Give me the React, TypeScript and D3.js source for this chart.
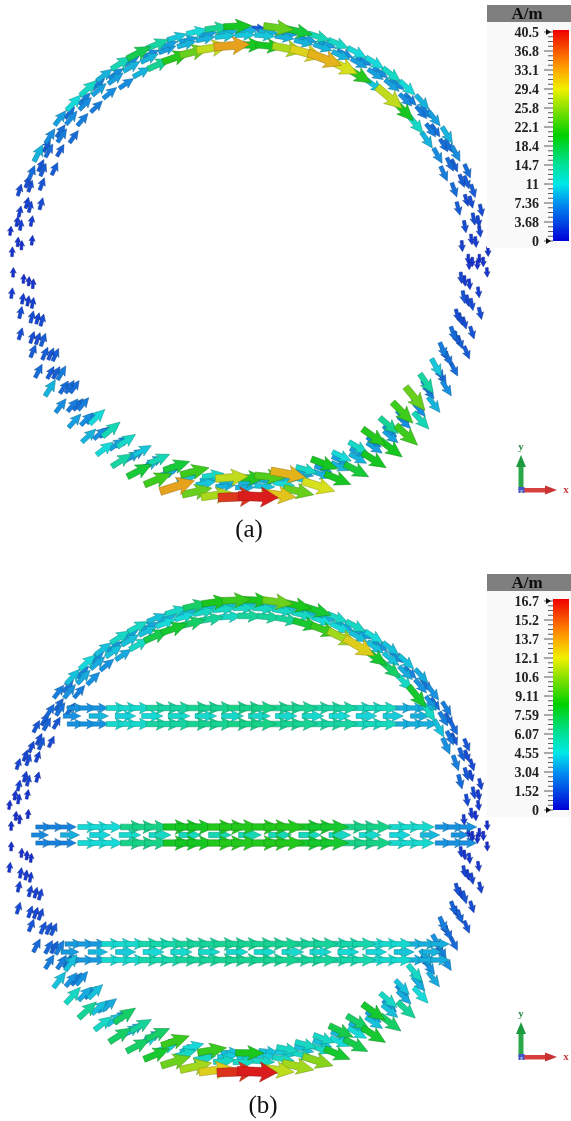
import React from "react";
import * as d3 from "d3";

// ---------- values (A/m), index runs left node -> right node ----------
const ticksA = ["40.5", "36.8", "33.1", "29.4", "25.8", "22.1", "18.4", "14.7", "11", "7.36", "3.68", "0"];
const ticksB = ["16.7", "15.2", "13.7", "12.1", "10.6", "9.11", "7.59", "6.07", "4.55", "3.04", "1.52", "0"];

const aTopOuter = [1.5, 1.2, 2.2, 3, 5, 9, 7, 8, 11, 12, 9, 13, 18, 14, 10, 11, 15, 20, 4, 24, 19, 13, 12, 11, 11, 12, 11, 9, 8, 9, 7, 5, 4, 3, 2.5, 1.5];
const aTopMid = [1.2, 2, 2.5, 3, 4, 5, 6, 7, 7, 8, 8, 9, 9, 8, 9, 9, 10, 10, 10, 9, 9, 9, 9, 8, 8, 8, 7, 6, 6, 5, 5, 4, 3, 3, 2, 1.2];
const aTopInner = [1.5, 2, 3, 3.5, 4, 4, 5, 6, 6, 7, 7, 9, 15, 21, 24, 28, 33, 20, 20, 27, 30, 32, 29, 21, 10, 28, 20, 12, 9, 7, 6, 5, 4, 3, 2.2, 1.5];
const aTopFill = [1.4, 1.8, 2.4, 3, 3.5, 4, 5, 5, 6, 6, 7, 7, 7, 8, 8, 8, 9, 9, 9, 8, 8, 8, 7, 7, 7, 7, 6, 6, 5, 5, 4, 4, 3, 2.5, 2, 1.4];

const aBotOuter = [1.4, 2, 3, 3, 4, 5, 9, 7, 8, 9, 11, 14, 19, 22, 33, 24, 27, 39, 40.5, 31, 24, 29, 20, 19, 20, 20, 22, 13, 9, 7, 5, 4, 3.5, 3, 2, 1.4];
const aBotMid = [1.2, 2, 3, 3, 4, 4, 5, 6, 7, 7, 8, 8, 9, 9, 10, 10, 9, 9, 10, 11, 10, 9, 9, 9, 8, 8, 7, 7, 6, 5, 5, 4, 3, 3, 2, 1.2];
const aBotInner = [1.5, 2.2, 3, 4, 4, 6, 5, 6, 11, 13, 12, 10, 13, 19, 22, 12, 28, 21, 23, 32, 12, 20, 11, 12, 21, 15, 22, 24, 14, 10, 6, 5, 3, 3.5, 2.5, 1.5];
const aBotFill = [1.3, 1.8, 2.5, 3, 3.5, 4, 5, 5, 6, 6, 7, 7, 8, 8, 8, 9, 9, 9, 9, 9, 8, 8, 8, 8, 7, 7, 7, 6, 6, 5, 4, 4, 3, 2.5, 2, 1.3];

const bTopOuter = [0.5, 0.5, 0.9, 1, 1.2, 1.5, 2, 2.5, 4, 4.5, 4, 5, 5, 4, 5, 7, 8.5, 9, 8.5, 10, 8.5, 8, 5, 5, 4.5, 4, 4, 3.5, 3, 2.5, 2, 1.5, 1.2, 1, 0.7, 0.5];
const bTopMid = [0.5, 0.7, 1, 1.2, 1.5, 1.8, 2.2, 3, 3.5, 3.5, 4, 4, 4, 4.5, 4.5, 5, 5, 5, 5, 5, 5, 4.5, 4.5, 4, 4, 4, 3.5, 3, 3, 2.5, 2.2, 1.8, 1.5, 1.2, 0.8, 0.5];
const bTopInner = [0.5, 0.6, 0.8, 1, 1.2, 1.5, 2, 2.5, 3, 3, 3.5, 5, 7.5, 8, 7, 6, 5, 6, 6, 6, 8, 9, 11, 12.5, 8, 7, 5, 8, 5, 4, 3, 2.5, 2, 1.2, 0.8, 0.6];
const bTopFill = [0.5, 0.6, 0.9, 1.1, 1.3, 1.6, 1.9, 2.3, 2.6, 2.9, 3.1, 3.3, 3.4, 3.6, 3.8, 4, 4, 4, 4, 4, 3.8, 3.6, 3.4, 3.2, 3, 2.8, 2.6, 2.3, 2, 1.8, 1.5, 1.2, 1, 0.8, 0.6, 0.5];

const bBotOuter = [0.5, 0.7, 0.9, 1.2, 1.5, 2, 2.5, 4, 5, 6, 5, 7, 7, 8, 10, 11, 12.5, 16.2, 16.7, 11.5, 11, 10.5, 8, 7.5, 8, 7, 6, 4.5, 3.5, 3, 2, 1.5, 1.2, 1, 0.7, 0.5];
const bBotMid = [0.5, 0.8, 1, 1.2, 1.5, 2, 2.5, 3, 3.5, 4, 4, 4, 4.5, 4.5, 5, 5, 5, 5, 5, 5, 5, 5, 4.5, 4.5, 4, 4, 3.5, 3.5, 3, 2.5, 2, 1.8, 1.5, 1, 0.8, 0.5];
const bBotInner = [0.5, 0.7, 1, 1.2, 1.5, 2.5, 4, 3, 4, 3.5, 7, 6, 7, 9, 4.5, 9, 4, 8.5, 4, 5, 5, 5, 7.5, 7, 8, 5, 4, 5, 3.5, 3, 2.5, 1.8, 1.3, 1, 0.8, 0.5];
const bBotFill = [0.5, 0.7, 0.9, 1.1, 1.4, 1.7, 2.1, 2.4, 2.7, 3, 3.2, 3.4, 3.6, 3.8, 4, 4, 4.2, 4.2, 4.2, 4.2, 4, 4, 3.8, 3.6, 3.3, 3, 2.8, 2.5, 2.2, 1.9, 1.5, 1.2, 1, 0.8, 0.6, 0.5];

const stripTopEdge = [3, 4.8, 5.8, 6.2, 6.4, 6.2, 5.8, 5.2, 3.6];
const stripTopCore = [3, 3.8, 4.3, 4.6, 4.8, 4.8, 4.9, 4.9, 4.8, 4.8, 4.6, 4.4, 4.2, 3.6];
const stripMidEdge = [2.6, 4.6, 6.4, 8.2, 8.6, 8.6, 8, 6.4, 4.8, 3];
const stripMidCore = [2.8, 3.6, 4.4, 4.8, 5, 5.2, 5.4, 5.4, 5.4, 5.2, 5, 4.8, 4.4, 3.8, 3];
const stripLowEdge = [3.2, 4.8, 5.6, 6, 6.2, 6.2, 6, 5.6, 4.8, 3.6];
const stripLowCore = [3.2, 3.8, 4.2, 4.5, 4.7, 4.8, 4.8, 4.8, 4.8, 4.7, 4.6, 4.4, 4.1, 3.7];

const wobble = [0, 4, -3, 5, -4, 2, -5, 3];
const colorStops = [0, 0.18, 0.27, 0.37, 0.5, 0.62, 0.72, 0.82, 1];
const colorValues = ["#0000d8", "#0090f0", "#00e8e8", "#00e090", "#00d000", "#80e000", "#f0f000", "#ffa000", "#f00000"];

// ---------- scales ----------
const colorScale = d3.scaleLinear<string>().domain(colorStops).range(colorValues).clamp(true);
const lenScale = d3.scalePow().exponent(0.6).domain([0, 1]).range([5, 40]);
const widthScale = d3.scalePow().exponent(0.6).domain([0, 1]).range([4, 20]);
const angleTop = d3.scaleLinear().domain([-0.5, 35.5]).range([180, 0]);
const angleBottom = d3.scaleLinear().domain([-0.5, 35.5]).range([180, 360]);

type Arrow = { x: number; y: number; rot: number; f: number };

function arrowPath(f: number) {
  const L = lenScale(f);
  const W = widthScale(f);
  const hl = Math.min(15, Math.max(4, L * 0.5));
  const sw = Math.max(1.6, W * 0.44);
  const p = d3.path();
  p.moveTo(-L / 2, -sw / 2);
  p.lineTo(L / 2 - hl, -sw / 2);
  p.lineTo(L / 2 - hl - hl * 0.15, -W / 2);
  p.lineTo(L / 2, 0);
  p.lineTo(L / 2 - hl - hl * 0.15, W / 2);
  p.lineTo(L / 2 - hl, sw / 2);
  p.lineTo(-L / 2, sw / 2);
  p.closePath();
  return p.toString();
}

function ringArrows(vals: number[], max: number, cx: number, cy: number, r: number, top: boolean, shift: number): Arrow[] {
  const sc = top ? angleTop : angleBottom;
  return vals.map((v, i) => {
    const deg = sc(i + shift);
    const a = (deg * Math.PI) / 180;
    const f = v / max;
    const rr = r + wobble[i % wobble.length] * Math.max(0, 1 - f * 4);
    const x = cx + rr * Math.cos(a);
    const y = cy - rr * Math.sin(a);
    return { x, y, rot: top ? -(deg - 90) : deg - 270, f };
  });
}

function stripArrows(edge: number[], core: number[], max: number, x0: number, x1: number, cy: number, dy: number): Arrow[] {
  const out: Arrow[] = [];
  const gx = d3.scaleLinear().domain([0, edge.length - 1]).range([x0 + 14, x1 - 26]);
  edge.forEach((v, i) => {
    [0, 12, 24].forEach((o) => {
      [-dy, dy].forEach((d) => out.push({ x: gx(i) + o, y: cy + d, rot: 0, f: v / max }));
    });
  });
  const mx = d3.scaleLinear().domain([0, core.length - 1]).range([x0 + 10, x1 - 10]);
  core.forEach((v, i) => out.push({ x: mx(i), y: cy, rot: 0, f: v / max }));
  return out;
}

const Arrows = ({ items }: { items: Arrow[] }) => (
  <g>
    {[...items]
      .sort((a, b) => a.f - b.f)
      .map((d, i) => {
        const c = d3.color(colorScale(d.f))!;
        const fill = d3.interpolateRgb(c.formatHex(), "#7a9a9a")(0.18);
        return (
          <path
            key={i}
            d={arrowPath(d.f)}
            transform={`translate(${d.x},${d.y}) rotate(${d.rot})`}
            fill={fill}
            stroke={d3.color(fill)!.darker(1).formatHex()}
            strokeWidth={0.5}
          />
        );
      })}
  </g>
);

const Legend = ({ top, labels }: { top: number; labels: string[] }) => {
  const y = d3.scaleLinear().domain([0, labels.length - 1]).range([top + 27, top + 236]);
  const minor = d3.range(0, (labels.length - 1) * 4 + 1);
  const id = `cb${top}`;
  return (
    <g>
      <rect x={487} y={top + 17} width={84} height={226} fill="#f9f9f9" />
      <rect x={487} y={top} width={84} height={17} fill="#7f7f7f" />
      <text x={527} y={top + 14} textAnchor="middle" fontFamily="Liberation Serif" fontWeight="bold" fontSize={17} fill="#111">
        A/m
      </text>
      <defs>
        <linearGradient id={id} x1="0" y1="1" x2="0" y2="0">
          {colorStops.map((s, i) => (
            <stop key={i} offset={s} stopColor={colorValues[i]} />
          ))}
        </linearGradient>
      </defs>
      <rect x={553} y={top + 25} width={16} height={211} fill={`url(#${id})`} />
      {minor.map((m) => {
        const yy = y(m / 4);
        return <line key={m} x1={m % 4 === 0 ? 544 : 548} x2={553} y1={yy} y2={yy} stroke="#333" strokeWidth={0.8} />;
      })}
      {labels.map((l, i) => (
        <text key={l} x={539} y={y(i) + 5} textAnchor="end" fontFamily="Liberation Serif" fontWeight="bold" fontSize={14} fill="#222">
          {l}
        </text>
      ))}
      {[0, labels.length - 1].map((i) => (
        <path key={i} d={`M551,${y(i)} l-5,-3 v6 z`} fill="#111" />
      ))}
    </g>
  );
};

const Triad = ({ ox, oy }: { ox: number; oy: number }) => (
  <g>
    <rect x={ox - 2.5} y={oy - 26} width={5} height={26} fill="#2aa84a" />
    <path d={`M${ox - 5},${oy - 23} L${ox},${oy - 35} L${ox + 5},${oy - 23} Z`} fill="#1f9a3f" />
    <rect x={ox} y={oy - 2} width={26} height={4.5} fill="#d84040" />
    <path d={`M${ox + 24},${oy - 4.5} L${ox + 36},${oy} L${ox + 24},${oy + 4.5} Z`} fill="#c83030" />
    <rect x={ox - 2.5} y={oy - 3} width={6} height={6} fill="#4a52c8" />
    <text x={ox - 1} y={oy + 2.5} fontSize={7} fontFamily="Liberation Serif" fontWeight="bold" fill="#bcd">z</text>
    <text x={ox} y={oy - 40} textAnchor="middle" fontSize={11} fontFamily="Liberation Serif" fontWeight="bold" fill="#2e8b4a">y</text>
    <text x={ox + 45} y={oy + 3} textAnchor="middle" fontSize={11} fontFamily="Liberation Serif" fontWeight="bold" fill="#c84040">x</text>
  </g>
);

function ringSet(tracks: [number[], number, boolean, number][], max: number, cx: number, cy: number) {
  return tracks.flatMap(([v, r, t, s]) => ringArrows(v, max, cx, cy, r, t, s));
}

export default function App() {
  const A = ringSet(
    [
      [aTopOuter, 236, true, 0],
      [aTopMid, 227, true, 0.35],
      [aTopFill, 231, true, 0.5],
      [aTopInner, 217, true, 0.65],
      [aBotOuter, 235, false, 0],
      [aBotMid, 225, false, 0.35],
      [aBotFill, 220, false, 0.5],
      [aBotInner, 216, false, 0.65],
    ],
    40.5,
    248,
    262
  );
  const B = [
    ...ringSet(
      [
        [bTopOuter, 236, true, 0],
        [bTopMid, 228, true, 0.35],
        [bTopFill, 232, true, 0.5],
        [bTopInner, 220, true, 0.65],
        [bBotOuter, 236, false, 0],
        [bBotMid, 226, false, 0.35],
        [bBotFill, 221, false, 0.5],
        [bBotInner, 217, false, 0.65],
      ],
      16.7,
      247,
      836
    ),
    ...stripArrows(stripTopEdge, stripTopCore, 16.7, 62, 430, 716, 8),
    ...stripArrows(stripMidEdge, stripMidCore, 16.7, 30, 470, 835, 8),
    ...stripArrows(stripLowEdge, stripLowCore, 16.7, 60, 442, 952, 8),
  ];
  return (
    <svg width={571} height={1121} style={{ position: "absolute", left: 0, top: 0, display: "block" }}>
      <defs>
        <filter id="soft" x="-5%" y="-5%" width="110%" height="110%">
          <feGaussianBlur stdDeviation={0.6} />
        </filter>
      </defs>
      <rect width={571} height={1121} fill="#fff" />
      <g filter="url(#soft)">
        <Arrows items={A} />
        <Arrows items={B} />
        <Legend top={5} labels={ticksA} />
        <Legend top={574} labels={ticksB} />
        <Triad ox={521} oy={490} />
        <Triad ox={521} oy={1057} />
      </g>
      <text x={249} y={537} textAnchor="middle" fontFamily="Liberation Serif" fontSize={25} fill="#111">(a)</text>
      <text x={263} y={1113} textAnchor="middle" fontFamily="Liberation Serif" fontSize={25} fill="#111">(b)</text>
    </svg>
  );
}
